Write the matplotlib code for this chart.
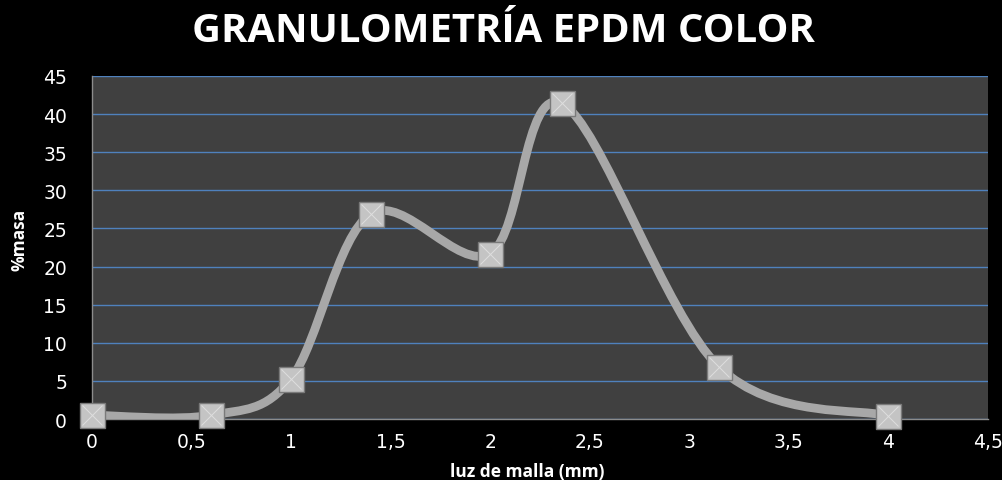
import matplotlib
matplotlib.use("Agg")
import matplotlib.pyplot as plt
from matplotlib.path import Path
from matplotlib.patches import PathPatch
import numpy as np

# Data
luz_malla = [0, 0.6, 1.0, 1.4, 2.0, 2.36, 3.15, 4.0]
pct_masa = [0.5, 0.5, 5.3, 26.9, 21.7, 41.4, 6.8, 0.4]
x_ticks = [0, 0.5, 1, 1.5, 2, 2.5, 3, 3.5, 4, 4.5]
x_tick_labels = ["0", "0,5", "1", "1,5", "2", "2,5", "3", "3,5", "4", "4,5"]
y_ticks = [0, 5, 10, 15, 20, 25, 30, 35, 40, 45]
title = "GRANULOMETRÍA EPDM COLOR"
xlabel = "luz de malla (mm)"
ylabel = "%masa"

plt.rcParams["font.family"] = ["DejaVu Sans"]

fig = plt.figure(figsize=(10.03, 4.81), dpi=100, facecolor="black")
ax = fig.add_axes([92/1003, 1-420/481, (988-92)/1003, (420-77)/481])
ax.set_facecolor("#404040")

# smooth curve (Catmull-Rom -> cubic Bezier)
pts = np.column_stack([luz_malla, pct_masa])
verts = [tuple(pts[0])]
codes = [Path.MOVETO]
n = len(pts)
for i in range(n - 1):
    p0 = pts[max(i - 1, 0)]
    p1 = pts[i]
    p2 = pts[i + 1]
    p3 = pts[min(i + 2, n - 1)]
    c1 = p1 + (p2 - p0) / 6.0
    c2 = p2 - (p3 - p1) / 6.0
    verts += [tuple(c1), tuple(c2), tuple(p2)]
    codes += [Path.CURVE4] * 3
path = Path(verts, codes)
ax.add_patch(PathPatch(path, facecolor="none", edgecolor="#a8a8a8", lw=6.3, zorder=3,
                       capstyle="round", joinstyle="round"))

# markers
ax.plot(luz_malla, pct_masa, linestyle="none", marker="s", ms=18,
        markerfacecolor="#c4c4c4", markeredgecolor="#7a7a7a", markeredgewidth=1.0,
        zorder=4, clip_on=False)
ax.plot(luz_malla, pct_masa, linestyle="none", marker="x", ms=14,
        markeredgecolor="#dedede", markeredgewidth=0.7, zorder=5, clip_on=False)

ax.set_xlim(0, 4.5)
ax.set_ylim(0, 45)
ax.set_xticks(x_ticks)
ax.set_xticklabels(x_tick_labels)
ax.set_yticks(y_ticks)
ax.yaxis.grid(True, color="#4f81bd", lw=1.0)
ax.set_axisbelow(True)
ax.tick_params(length=0, colors="white", labelsize=13.5)
ax.tick_params(axis="x", pad=9)
ax.tick_params(axis="y", pad=18)
for s in ["top", "right"]:
    ax.spines[s].set_visible(False)
for s in ["left", "bottom"]:
    ax.spines[s].set_color("#8c8c8c")
    ax.spines[s].set_linewidth(1.0)

fig.text(0.502, 1-32/481, title, color="white", fontsize=28.8, fontweight="bold",
         family="Open Sans", ha="center", va="center")
fig.text(527/1003, 1-472/481, xlabel, color="white", fontsize=12.5, fontweight="bold",
         family="Open Sans", ha="center", va="center")
fig.text(20/1003, 1-240/481, ylabel, color="white", fontsize=12.5, fontweight="bold",
         family="Open Sans", ha="center", va="center", rotation=90)

fig.savefig("out.png", dpi=100, facecolor="black")
